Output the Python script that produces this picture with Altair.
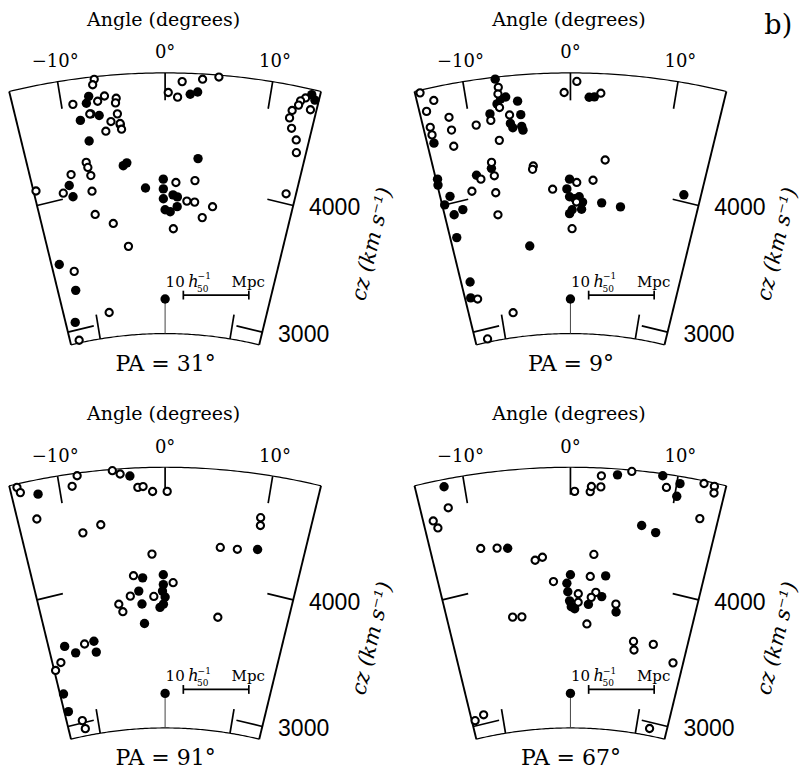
import altair as alt
import numpy as np
import pandas as pd

# ---------------- data: galaxy positions (angle in degrees, cz in km/s) ----------------
PANEL_TITLES = ["PA = 31°", "PA = 9°", "PA = 91°", "PA = 67°"]

OPEN_ANGLE_31 = [-6.6, -6.8, -8.9, -5.8, -6.5, -4.7, -4.8, -7.4, -4.7, -5.4, -4.5, -4.4, -6.0,
                 0.3, 1.2, 1.6, 3.5, 5.0, 13.3, 12.9, 12.8, 14.0, 12.3, 12.2, 12.6, 13.3, 13.6,
                 13.5, -8.4, -8.3, -8.1, -10.2, -11.4, -8.2, -14.3, 1.2, 3.3, 2.5, 3.4, 5.5, 4.4,
                 1.0, -6.2, -8.2, -4.6, -11.9, -8.1, -13.2]
OPEN_CZ_31 = [4880, 4840, 4710, 4745, 4710, 4720, 4685, 4620, 4600, 4545, 4525, 4480, 4475,
              4750, 4715, 4835, 4860, 4885, 4825, 4795, 4760, 4745, 4710, 4650, 4575, 4495, 4400,
              4075, 4255, 4215, 4150, 4180, 4050, 4030, 4110, 4060, 4080, 3920, 3915, 3890, 3800,
              3705, 3765, 3850, 3580, 3445, 3090, 2920]
FILLED_ANGLE_31 = [-7.3, -7.6, -7.3, -6.5, -8.4, -4.5, -7.8, -4.5, -4.1, 3.5, 2.4, 3.1, -10.6,
                   -10.4, -2.2, -0.2, -0.2, -0.2, 0.0, 0.6, 1.4, 1.4, 0.9, 13.8, 14.2, -13.6,
                   -12.2, -13.2, 0.0]
FILLED_CZ_31 = [4755, 4705, 4620, 4600, 4580, 4515, 4415, 4200, 4220, 4250, 4740, 4760, 4100,
                4010, 4020, 4085, 4010, 3935, 3850, 3835, 3875, 3950, 3965, 4860, 4825, 3520,
                3300, 3060, 3165]

OPEN_ANGLE_9 = [-14.1, -13.0, -13.9, -11.9, -13.9, -13.9, -11.9, -12.0, -6.8, -6.9, -6.9, -7.9,
                -6.0, -9.4, -7.3, -0.6, 0.6, 2.9, -8.4, -9.8, -8.3, -4.0, -4.1, 3.7, 2.5, -2.0,
                -11.0, -8.4, -8.5, 0.2, 0.7, 0.7, -12.9, -8.3, -12.7]
OPEN_CZ_9 = [4880, 4800, 4730, 4650, 4605, 4545, 4550, 4425, 4820, 4770, 4665, 4575,
             4600, 4555, 4415, 4750, 4835, 4750, 4255, 4140, 4150, 4195, 4170, 4240, 4080, 4010,
             4060, 4020, 3850, 3705, 4060, 3910, 3240, 3090, 2925]
FILLED_ANGLE_9 = [-13.9, -7.0, -6.7, -6.2, -7.1, -5.1, -7.9, -4.9, -6.0, -5.8, -4.9, -4.8, 1.8,
                  2.3, -8.5, -10.2, -14.4, -14.5, -13.5, -14.3, -13.5, -12.4, -13.8, -5.1, 3.6,
                  5.8, 12.7, -13.4, -13.8, -0.1, -0.4, -0.1, 0.5, 1.0, 1.4, 1.3, 0.2, -0.1, 0.0]
FILLED_CZ_9 = [4480, 4885, 4730, 4740, 4695, 4700, 4625, 4595, 4535, 4500, 4505, 4475, 4715,
               4720, 4210, 4175, 4205, 4160, 4055, 4000, 3910, 3935, 3735, 3585, 3910,
               3890, 4055, 3380, 3260, 4085, 4010, 3950, 3935, 3950, 3910, 3855, 3850, 3820, 3165]

OPEN_ANGLE_91 = [-13.9, -13.7, -12.7, -8.2, -8.8, -4.9, -4.2, -2.6, -2.1, -1.2, 0.2, -8.4, -6.5,
                 -1.4, 9.5, 9.6, 5.8, 7.6, -3.5, 0.9, -4.0, -1.3, -5.4, -5.0, 6.3, -10.1, -13.5,
                 -14.4, -12.3, -12.1]
OPEN_CZ_91 = [4875, 4830, 4605, 4880, 4805, 4890, 4860, 4750, 4755, 4715, 4715, 4440, 4485,
              4235, 4570, 4510, 4305, 4305, 4075, 4015, 3920, 3910, 3865, 3805, 3770, 3595, 3490,
              3440, 3020, 2955]
FILLED_ANGLE_91 = [-12.1, -3.3, 9.7, -2.5, -0.2, -0.2, -0.3, 0.0, -0.2, -0.6, -3.0, -2.7, -2.5,
                   -12.6, -11.4, -8.9, -8.8, -14.1, -14.0, 0.0]
FILLED_CZ_91 = [4790, 4840, 4325, 4055, 4075, 4000, 3950, 3905, 3850, 3825, 3955, 3855, 3705,
                3605, 3540, 3605, 3520, 3250, 3110, 3165]

OPEN_ANGLE_67 = [-11.9, -13.6, -13.3, -9.4, -7.7, -3.8, -3.0, 2.5, -1.9, 2.2, 0.4, 1.9, 2.0, 2.9,
                 2.9, 5.7, 9.1, 12.5, 13.5, 13.6, 12.8, 0.9, 0.9, 2.9, 2.4, 5.3, -6.9, -5.8, 2.0,
                 7.9, 8.1, 10.4, 13.3, -12.7, -14.1, 12.0]
OPEN_CZ_67 = [4680, 4605, 4545, 4330, 4315, 4195, 4215, 4235, 4025, 4065, 4715, 4715, 4755, 4755,
              4840, 4890, 4800, 4880, 4875, 4825, 4610, 3930, 3865, 3945, 3905, 3865, 3775, 3770,
              3700, 3595, 3530, 3595, 3485, 3070, 3040, 2955]
FILLED_ANGLE_67 = [-11.9, -6.6, 0.0, 3.9, 4.4, 8.6, 10.3, 10.2, 7.2, 8.7, -0.4, -0.3, -0.1, 0.1,
                   0.5, 2.1, 3.6, 5.4, 0.0]
FILLED_CZ_67 = [4845, 4305, 4075, 4075, 4855, 4885, 4845, 4745, 4485, 4445, 4010, 3945, 3875,
                3830, 3815, 3850, 3915, 3805, 3165]

OPEN_ANGLES = [OPEN_ANGLE_31, OPEN_ANGLE_9, OPEN_ANGLE_91, OPEN_ANGLE_67]
OPEN_CZS = [OPEN_CZ_31, OPEN_CZ_9, OPEN_CZ_91, OPEN_CZ_67]
FILLED_ANGLES = [FILLED_ANGLE_31, FILLED_ANGLE_9, FILLED_ANGLE_91, FILLED_ANGLE_67]
FILLED_CZS = [FILLED_CZ_31, FILLED_CZ_9, FILLED_CZ_91, FILLED_CZ_67]

ANGLE_TICKS = [-10, 0, 10]
ANGLE_TICK_LABELS = ["−10°", "0°", "10°"]
CZ_TICKS = [3000, 4000]
CZ_TICK_LABELS = ["3000", "4000"]
SCALE_MPC = 10
H0 = 50

# ---------------- geometry / layout (reference-pixel frame) ----------------
CZ_MIN, CZ_MAX = 2900, 4900
HALF_ANGLE = 14.57
SQUEEZE = 0.937
PX = 0.133          # reference px per km/s
CZ_APEX = -143
APEX = [(159.5, 739.0), (571.0, 739.0), (159.5, 1141.4), (571.0, 1141.4)]
OFF = [(ax - APEX[0][0], ay - APEX[0][1]) for ax, ay in APEX]
SX, SY, CY = 0.985, 0.98, 2.0
W, H = 793, 763


def proj(p, ang, cz, rp=0.0, tp=0.0):
    ax, ay = APEX[p]
    phi = np.radians(np.asarray(ang, float) * SQUEEZE)
    rho = PX * (np.asarray(cz, float) - CZ_APEX) + rp
    x = ax + rho * np.sin(phi) + tp * np.cos(phi)
    y = ay - rho * np.cos(phi) + tp * np.sin(phi)
    return x, y


xs = alt.X("x:Q", scale=alt.Scale(domain=[0, W / SX], nice=False, zero=False), axis=None)
ys = alt.Y("y:Q", scale=alt.Scale(domain=[CY / SY, (H + CY) / SY], nice=False, zero=False, reverse=True),
           axis=None)

# points
rows_open, rows_fill = [], []
for p in range(4):
    x, y = proj(p, OPEN_ANGLES[p], OPEN_CZS[p])
    rows_open += [dict(x=a, y=b) for a, b in zip(x, y)]
    x, y = proj(p, FILLED_ANGLES[p], FILLED_CZS[p])
    rows_fill += [dict(x=a, y=b) for a, b in zip(x, y)]
df_open = pd.DataFrame(rows_open)
df_fill = pd.DataFrame(rows_fill)

# frame lines
arc_rows, side_rows, tick_rows, thin_rows = [], [], [], []
sweep = np.linspace(-HALF_ANGLE, HALF_ANGLE, 90)
for p in range(4):
    for name, czv in (("top", CZ_MAX), ("bot", CZ_MIN)):
        x, y = proj(p, sweep, np.full(sweep.shape, czv))
        arc_rows += [dict(x=a, y=b, seg=f"{p}{name}", i=k) for k, (a, b) in enumerate(zip(x, y))]
    for name, ang in (("l", -HALF_ANGLE), ("r", HALF_ANGLE)):
        x, y = proj(p, [ang, ang], [CZ_MIN, CZ_MAX])
        side_rows += [dict(x=a, y=b, seg=f"{p}{name}", i=k) for k, (a, b) in enumerate(zip(x, y))]
    for t in ANGLE_TICKS:
        x, y = proj(p, [t, t], [CZ_MAX, CZ_MAX], rp=np.array([0.0, -28.0]))
        tick_rows += [dict(x=a, y=b, seg=f"{p}t{t}", i=k) for k, (a, b) in enumerate(zip(x, y))]
    for t in (-10, 10):
        x, y = proj(p, [t, t], [CZ_MIN, CZ_MIN], rp=np.array([0.0, 25.0]))
        tick_rows += [dict(x=a, y=b, seg=f"{p}b{t}", i=k) for k, (a, b) in enumerate(zip(x, y))]
    x, y = proj(p, [0, 0], [CZ_MIN, 3165])
    thin_rows += [dict(x=a, y=b, seg=f"{p}b0", i=k) for k, (a, b) in enumerate(zip(x, y))]
    for c in CZ_TICKS:
        x, y = proj(p, [-HALF_ANGLE] * 2, [c, c], tp=np.array([0.0, 27.0]))
        tick_rows += [dict(x=a, y=b, seg=f"{p}l{c}", i=k) for k, (a, b) in enumerate(zip(x, y))]
        x, y = proj(p, [HALF_ANGLE] * 2, [c, c], tp=np.array([0.0, -27.0]))
        tick_rows += [dict(x=a, y=b, seg=f"{p}r{c}", i=k) for k, (a, b) in enumerate(zip(x, y))]
    ox, oy = OFF[p]
    L = PX * SCALE_MPC * H0
    x0 = ox + 178
    tick_rows += [dict(x=x0, y=oy + 295, seg=f"{p}sb", i=0), dict(x=x0 + L, y=oy + 295, seg=f"{p}sb", i=1)]
    for e, xe in (("a", x0), ("b", x0 + L)):
        tick_rows += [dict(x=xe, y=oy + 290.5, seg=f"{p}sb{e}", i=0), dict(x=xe, y=oy + 299.5, seg=f"{p}sb{e}", i=1)]

df_arc = pd.DataFrame(arc_rows)
df_side = pd.DataFrame(side_rows)
df_tick = pd.DataFrame(tick_rows)
df_thin = pd.DataFrame(thin_rows)


def line_layer(df, width, color="black"):
    return alt.Chart(df).mark_line(color=color, strokeWidth=width, strokeCap="butt").encode(
        x=xs, y=ys, detail="seg:N", order="i:Q")


t_title, t_ang, t_cz, t_czt, t_pa, t_sb, t_h, t_sup, t_sub = ([] for _ in range(9))
for p in range(4):
    ox, oy = OFF[p]
    t_title.append(dict(x=ox + 158, y=oy + 20, text="Angle (degrees)"))
    x, y = proj(p, ANGLE_TICKS, [CZ_MAX] * 3, rp=15.0)
    t_ang += [dict(x=a, y=b, text=s) for a, b, s in zip(x, y, ANGLE_TICK_LABELS)]
    x, y = proj(p, [HALF_ANGLE] * 2, CZ_TICKS)
    t_cz += [dict(x=a + 42, y=b + 10, text=s) for a, b, s in zip(x, y, CZ_TICK_LABELS)]
    t_czt.append(dict(x=ox + 370, y=oy + 243, text="cz (km s⁻¹)"))
    t_pa.append(dict(x=ox + 160, y=oy + 372.5, text=PANEL_TITLES[p]))
    t_sb += [dict(x=ox + 160, y=oy + 286.5, text=str(SCALE_MPC)), dict(x=ox + 227, y=oy + 286.5, text="Mpc")]
    t_h.append(dict(x=ox + 183, y=oy + 286.5, text="h"))
    t_sup.append(dict(x=ox + 192.5, y=oy + 279, text="−1"))
    t_sub.append(dict(x=ox + 192, y=oy + 291.5, text=str(H0)))

SERIF = "DejaVu Serif"


def text_layer(rows, **kw):
    return alt.Chart(pd.DataFrame(rows)).mark_text(color="black", **kw).encode(x=xs, y=ys, text="text:N")


layers = [
    line_layer(df_arc, 1.2),
    line_layer(df_side, 1.9),
    line_layer(df_tick, 1.7),
    line_layer(df_thin, 1.0, "#444444"),
    alt.Chart(df_fill).mark_circle(size=88, color="black", opacity=1).encode(x=xs, y=ys),
    alt.Chart(df_open).mark_point(shape="circle", size=52, filled=True, fill="white",
                                  stroke="black", strokeWidth=2.1, opacity=1).encode(x=xs, y=ys),
    text_layer(t_title, font=SERIF, fontSize=19, align="center", baseline="alphabetic"),
    text_layer(t_ang, font=SERIF, fontSize=18, align="center", baseline="alphabetic"),
    text_layer(t_cz, font="Liberation Sans", fontSize=23, align="center", baseline="alphabetic"),
    text_layer(t_czt, font=SERIF, fontSize=21, fontStyle="italic", align="center",
               baseline="middle", angle=283.65),
    text_layer(t_pa, font=SERIF, fontSize=22, align="center", baseline="alphabetic"),
    text_layer(t_sb, font=SERIF, fontSize=15, align="left", baseline="alphabetic"),
    text_layer(t_h, font=SERIF, fontSize=16, fontStyle="italic", align="left", baseline="alphabetic"),
    text_layer(t_sup, font=SERIF, fontSize=9, align="left", baseline="alphabetic"),
    text_layer(t_sub, font=SERIF, fontSize=9, align="left", baseline="alphabetic"),
    text_layer([dict(x=782, y=29, text="b)")], font=SERIF, fontSize=27, align="center", baseline="alphabetic"),
]

chart = alt.layer(*layers).properties(
    width=W, height=H, padding=0, autosize=alt.AutoSizeParams(type="none")
).configure_view(stroke=None)

chart.save("out.html", embed_options={"renderer": "svg", "actions": False})
